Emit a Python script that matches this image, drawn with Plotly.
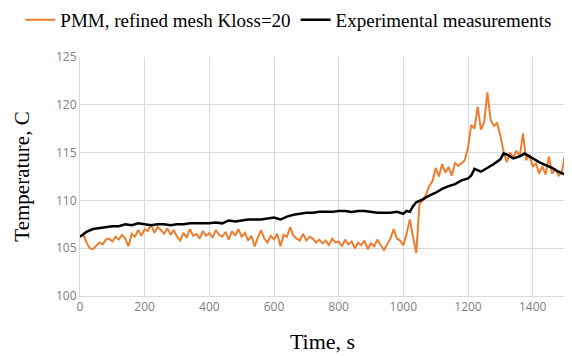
import plotly.graph_objects as go

# Simulation (PMM, refined mesh Kloss=20)
t_sim = list(range(0, 1501, 10))
T_sim = [
    106.2, 106.5, 105.6, 105.0, 104.9, 105.3, 105.6, 105.4, 105.9, 106.0,
    105.7, 106.2, 105.9, 106.4, 106.0, 105.2, 106.5, 106.2, 106.9, 106.3,
    107.0, 106.8, 107.5, 106.6, 107.2, 106.9, 106.5, 107.1, 106.4, 106.9,
    106.2, 105.8, 106.6, 106.1, 107.0, 106.3, 106.5, 106.0, 106.8, 106.3,
    106.6, 106.1, 106.9, 106.4, 106.2, 106.7, 105.9, 106.8, 106.3, 107.0,
    106.2, 106.6, 105.8, 106.3, 105.2, 106.1, 106.9, 106.0, 105.6, 106.3,
    105.9, 106.5, 105.2, 106.4, 106.2, 107.2, 106.3, 106.0, 105.8, 106.5,
    105.8, 106.2, 106.0, 105.6, 105.9, 105.5, 105.8, 105.3, 106.0, 105.6,
    105.7, 105.2, 105.9, 105.4, 105.7, 105.0, 105.6, 105.3, 105.8, 104.9,
    105.5, 105.2, 105.9, 105.3, 104.8, 105.4, 106.0, 107.0, 106.0, 105.8,
    105.3, 106.5, 108.0, 106.2, 104.5, 109.6, 110.0, 110.6, 111.5, 112.0,
    113.4, 112.5, 113.8, 112.9, 113.5, 112.6, 113.9, 113.6, 113.9, 114.2,
    115.5, 117.9, 117.5, 119.8, 117.4, 118.2, 121.3, 118.4, 117.8, 118.1,
    116.8, 115.1, 114.0, 115.0, 114.5, 115.2, 114.6, 117.0, 114.2, 114.8,
    113.5, 113.9, 112.8, 113.6, 112.7, 114.6, 112.8, 113.3, 112.6, 112.9,
    114.8,
]

# Experimental measurements
t_exp = [0, 20, 40, 60, 80, 100, 120, 140, 160, 180, 200, 220, 240, 260, 280,
         300, 320, 340, 360, 380, 400, 420, 440, 460, 480, 500, 520, 540, 560,
         580, 600, 620, 640, 660, 680, 700, 720, 740, 760, 780, 800, 820, 840,
         860, 880, 900, 920, 940, 960, 980, 1000, 1010, 1020, 1030, 1040, 1060,
         1080, 1100, 1120, 1140, 1160, 1180, 1200, 1210, 1220, 1240, 1260, 1280,
         1300, 1310, 1320, 1340, 1360, 1375, 1390, 1400, 1420, 1440, 1460, 1480,
         1500]
T_exp = [106.2, 106.7, 107.0, 107.1, 107.2, 107.3, 107.3, 107.5, 107.4, 107.6,
         107.5, 107.4, 107.5, 107.5, 107.4, 107.5, 107.5, 107.6, 107.6, 107.6,
         107.6, 107.7, 107.6, 107.9, 107.8, 107.9, 108.0, 108.0, 108.0, 108.1,
         108.2, 108.0, 108.3, 108.5, 108.6, 108.7, 108.7, 108.8, 108.8, 108.8,
         108.9, 108.9, 108.8, 108.9, 108.9, 108.8, 108.7, 108.7, 108.7, 108.8,
         108.6, 108.9, 108.8, 109.4, 109.8, 110.1, 110.5, 110.8, 111.2, 111.5,
         111.7, 112.1, 112.3, 112.6, 113.3, 113.0, 113.4, 113.8, 114.3, 114.9,
         114.8, 114.4, 114.6, 114.9, 114.6, 114.4, 114.0, 113.7, 113.4, 113.0,
         112.7]

x_ticks = [0, 200, 400, 600, 800, 1000, 1200, 1400]
y_ticks = [100, 105, 110, 115, 120, 125]

serif = "Liberation Serif, Times New Roman, serif"
sans = "Open Sans, Liberation Sans, sans-serif"

fig = go.Figure()
fig.add_trace(go.Scatter(x=t_sim, y=T_sim, mode="lines",
                         name="PMM, refined mesh Kloss=20",
                         line=dict(color="#ED7D31", width=2)))
fig.add_trace(go.Scatter(x=t_exp, y=T_exp, mode="lines",
                         name="Experimental measurements",
                         line=dict(color="#000000", width=2.5)))

fig.update_layout(
    width=564, height=348,
    margin=dict(l=72, r=7, t=49, b=60, autoexpand=False),
    paper_bgcolor="white", plot_bgcolor="white",
    showlegend=True,
    legend=dict(orientation="h", x=-0.123, xanchor="left", y=1.155,
                yanchor="middle",
                font=dict(family=serif, size=19, color="#000000"),
                itemwidth=30, tracegroupgap=0,
                bgcolor="rgba(0,0,0,0)"),
    xaxis=dict(range=[0, 1500], tickvals=x_ticks, showgrid=True, automargin=False,
               gridcolor="#d9d9d9", gridwidth=1, zeroline=False,
               showline=True, linecolor="#d9d9d9", linewidth=1,
               ticks="", tickfont=dict(family=sans, size=12, color="#808080"),
               title=dict(text="Time, s", font=dict(family=serif, size=22, color="#000"),
                          standoff=19)),
    yaxis=dict(range=[100, 125], tickvals=y_ticks, showgrid=True, automargin=False,
               gridcolor="#d9d9d9", gridwidth=1, zeroline=False,
               showline=True, linecolor="#d9d9d9", linewidth=1,
               ticks="", tickfont=dict(family=sans, size=12, color="#808080"),
               title=dict(text="Temperature, C", font=dict(family=serif, size=21, color="#000"),
                          standoff=20)),
)

fig.write_html("out.html")
